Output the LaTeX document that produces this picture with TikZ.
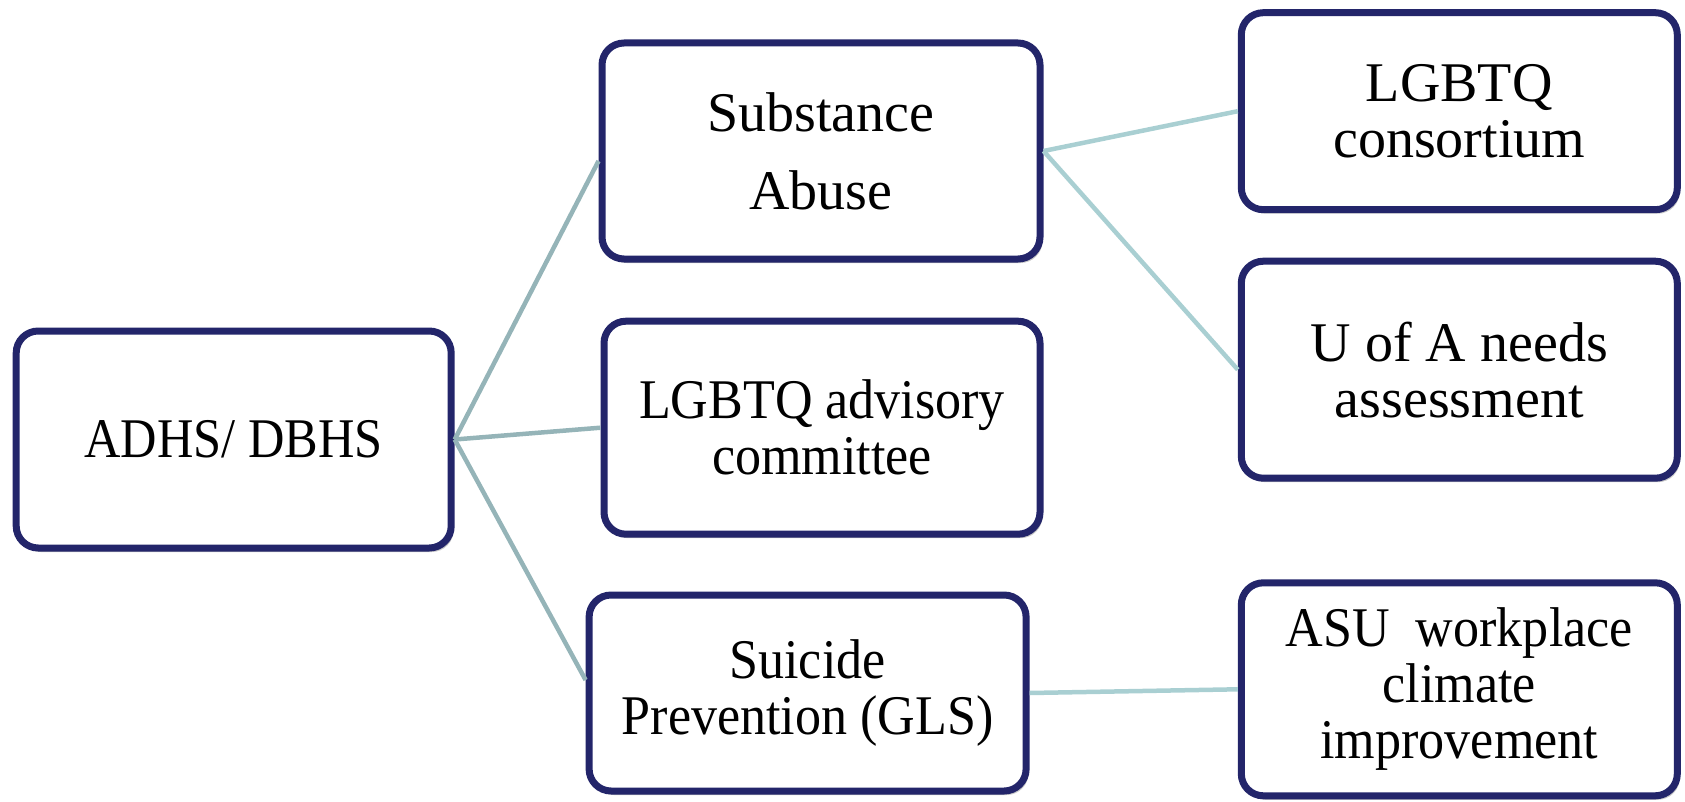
\documentclass[tikz,border=0pt]{standalone}
\usepackage{fontspec}
\setmainfont{Liberation Serif}
% narrower cuts of the same serif for the tighter labels
\newfontfamily\narrowserif[FakeStretch=0.93]{Liberation Serif}
\newfontfamily\narrowerserif[FakeStretch=0.90]{Liberation Serif}
\usetikzlibrary{shadows}
\definecolor{boxedge}{HTML}{23256A}
\definecolor{linkleft}{HTML}{95B4B8}
\definecolor{linkright}{HTML}{A9CFD2}
\begin{document}
\begin{tikzpicture}[x=1pt,y=-1pt,
  box/.style={draw=boxedge, line width=7pt, rounded corners=22pt,
    fill=white, align=center, inner sep=0pt,
    font=\fontsize{56}{56}\selectfont,
    drop shadow={opacity=0.3, shadow xshift=2.5pt, shadow yshift=-4pt, fill=black!70}},
  linkL/.style={draw=linkleft, line width=4.5pt},
  linkR/.style={draw=linkright, line width=4.5pt}]
\useasboundingbox (0,0) rectangle (1685,802);

% boxes
\node[box, minimum width=435pt, minimum height=217pt] (adhs) at (233.7,439.5)
  {\narrowerserif ADHS/ DBHS};
\node[box, minimum width=438pt, minimum height=216pt] (sub) at (821,151)
  {Substance\\[22pt]Abuse};
\node[box, minimum width=436pt, minimum height=213pt] (adv) at (822,427.7)
  {\narrowserif LGBTQ advisory\\\narrowserif committee};
\node[box, minimum width=437pt, minimum height=196pt] (sui) at (807.6,693)
  {\narrowserif Suicide\\\narrowserif Prevention (GLS)};
\node[box, minimum width=436pt, minimum height=197pt] (con) at (1459.3,111.2)
  {LGBTQ\\consortium};
\node[box, minimum width=436pt, minimum height=217pt] (uofa) at (1459.3,369.7)
  {U of A needs\\assessment};
\node[box, minimum width=436pt, minimum height=213pt] (asu) at (1459.3,689.3)
  {\narrowserif ASU\ \ workplace\\\narrowserif climate\\\narrowserif improvement};

% connectors
\draw[linkL] (adhs.east) -- ([yshift=-10pt]sub.west);
\draw[linkL] (adhs.east) -- (adv.west);
\draw[linkL] (adhs.east) -- ([yshift=13pt]sui.west);
\draw[linkR] (sub.east) -- (con.west);
\draw[linkR] (sub.east) -- (uofa.west);
\draw[linkR] (sui.east) -- (asu.west);
\end{tikzpicture}
\end{document}
